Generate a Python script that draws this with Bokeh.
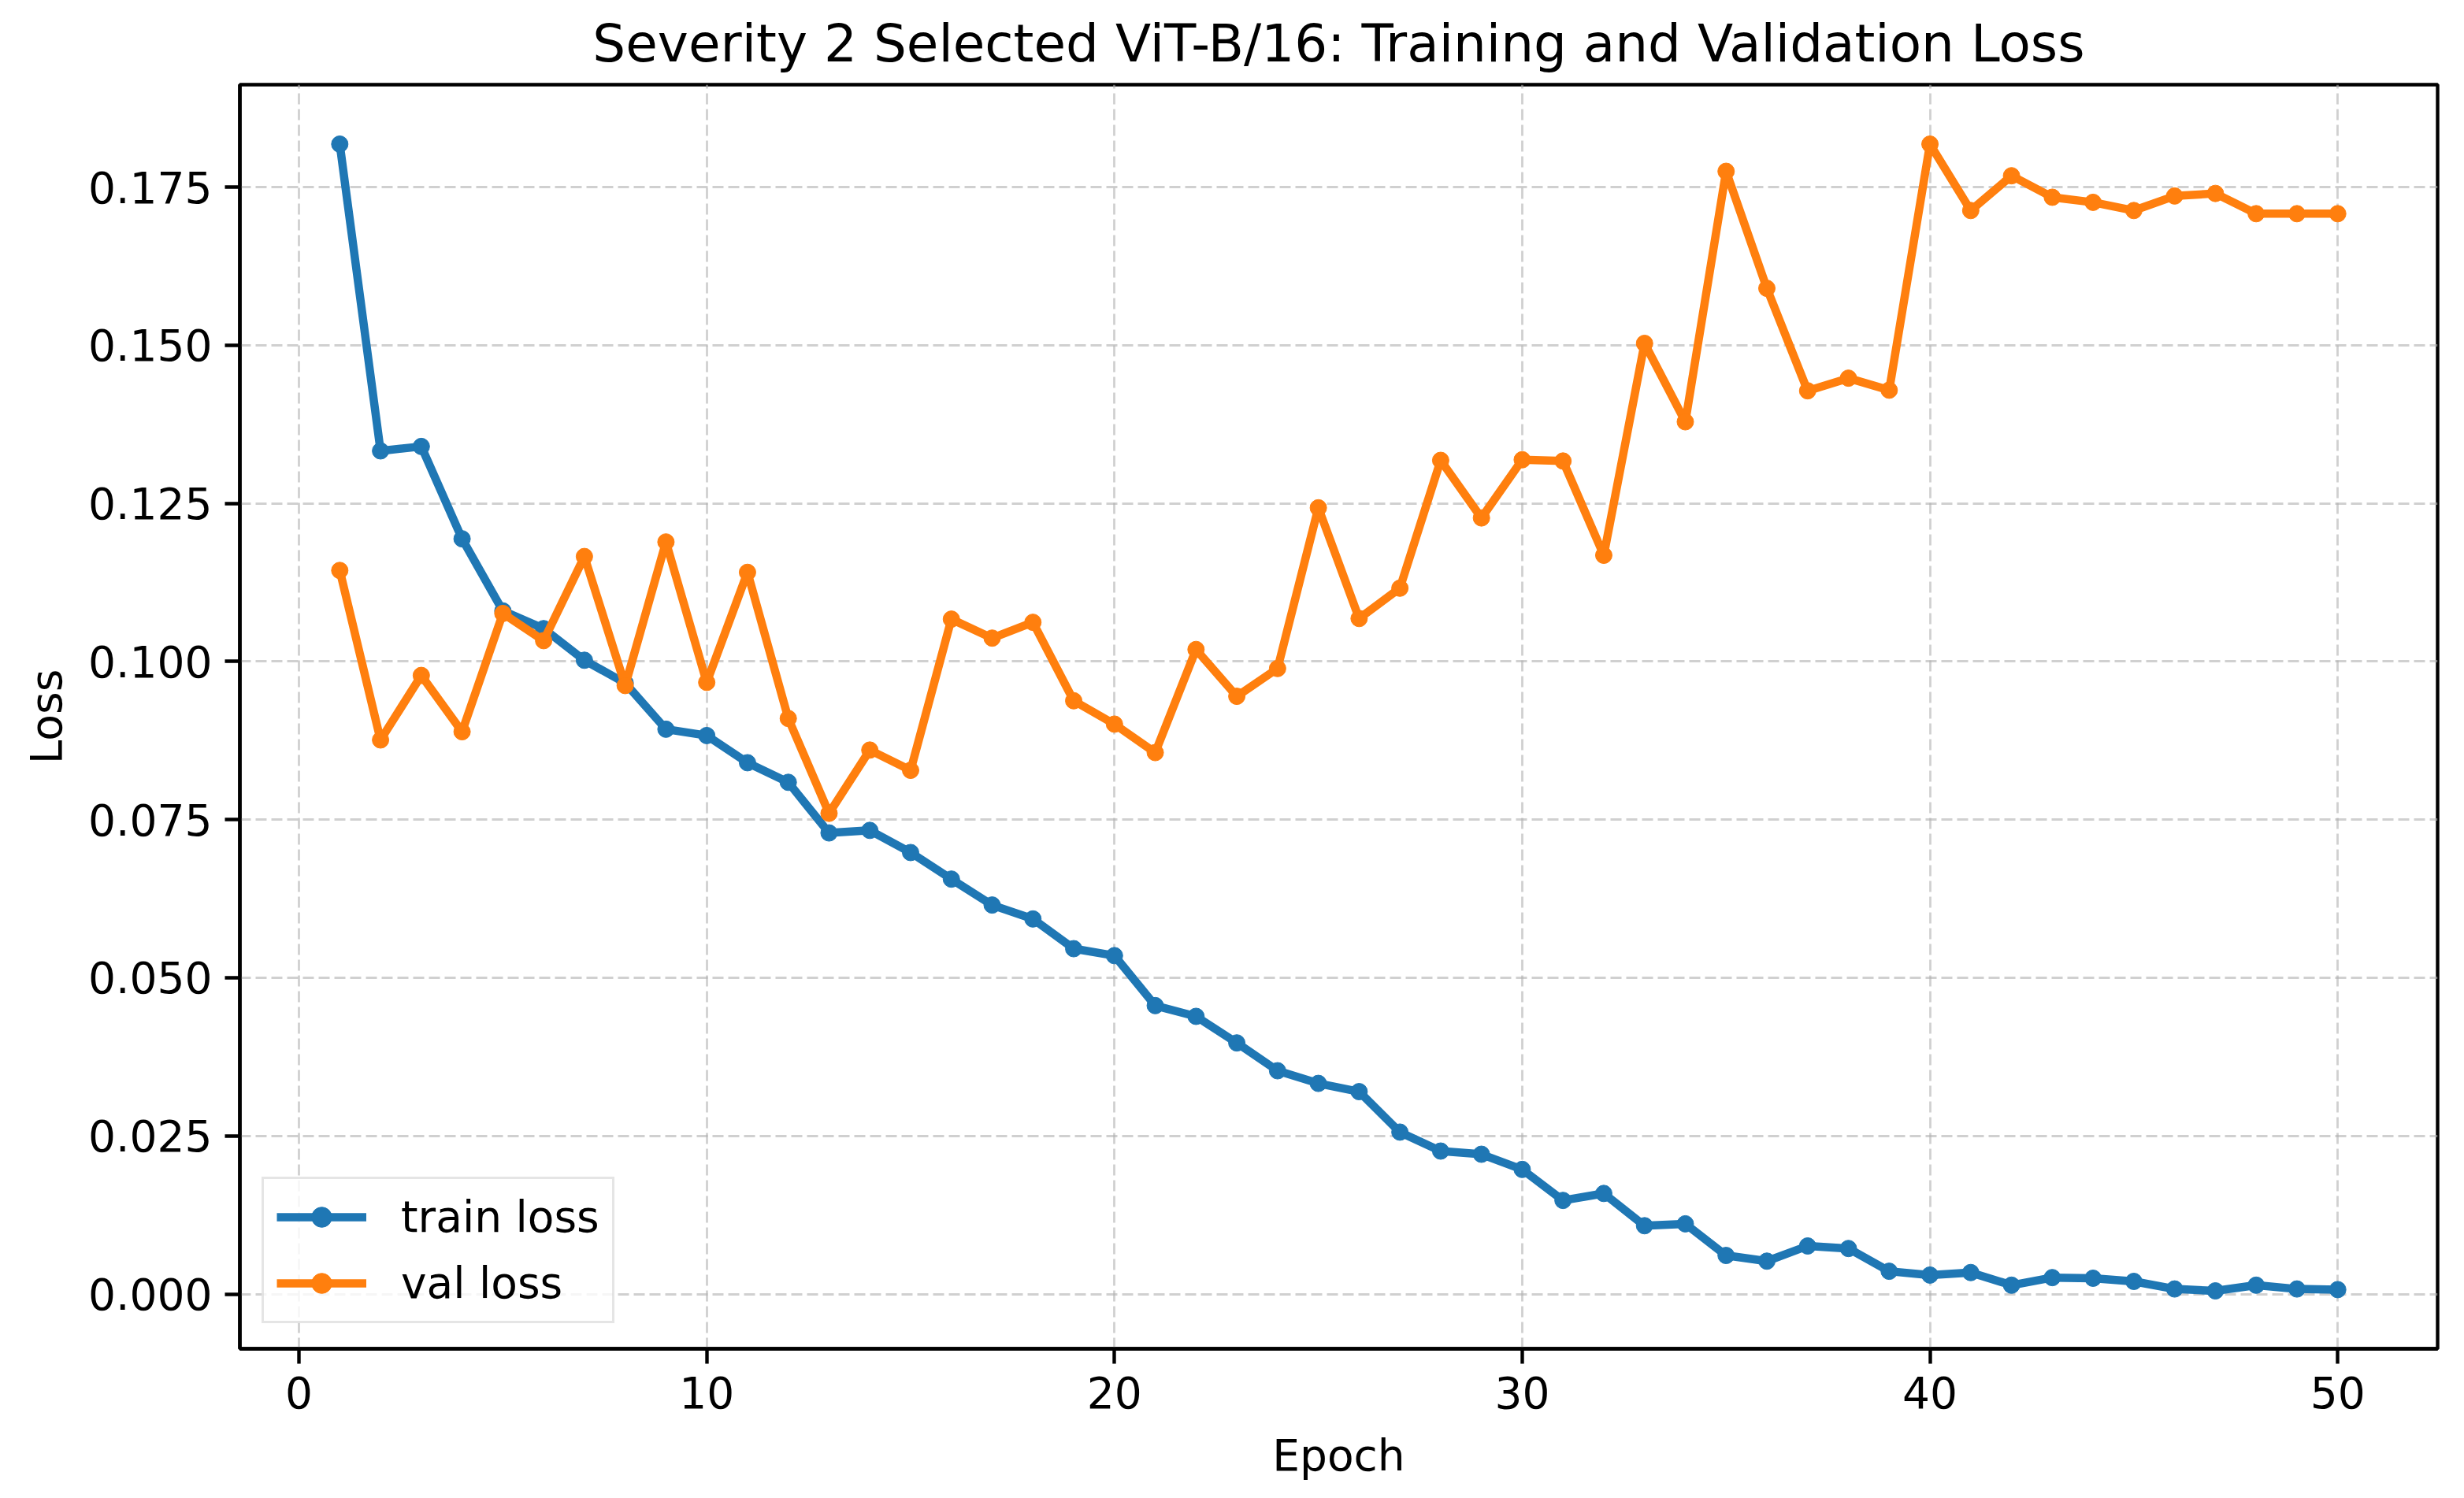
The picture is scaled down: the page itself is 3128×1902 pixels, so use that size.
from bokeh.plotting import figure
from bokeh.models import Range1d, FixedTicker, NumeralTickFormatter, Legend, LegendItem
from bokeh.embed import file_html
from bokeh.resources import INLINE

epochs = list(range(1, 51))
train_loss = [0.1818, 0.1333, 0.1340, 0.1194, 0.1080, 0.1052, 0.1002, 0.0966, 0.0893, 0.0883,
              0.0840, 0.0809, 0.0729, 0.0733, 0.0698, 0.0656, 0.0615, 0.0593, 0.0546, 0.0535,
              0.0456, 0.0439, 0.0397, 0.0353, 0.0333, 0.0320, 0.0256, 0.0226, 0.0221, 0.0197,
              0.0148, 0.0159, 0.0108, 0.0111, 0.0061, 0.0052, 0.0076, 0.0072, 0.0036, 0.0030,
              0.0034, 0.0014, 0.0026, 0.0025, 0.0020, 0.0008, 0.0005, 0.0014, 0.0008, 0.0007]
val_loss = [0.1144, 0.0876, 0.0978, 0.0889, 0.1076, 0.1033, 0.1166, 0.0962, 0.1189, 0.0967,
            0.1141, 0.0910, 0.0760, 0.0860, 0.0828, 0.1067, 0.1037, 0.1062, 0.0938, 0.0901,
            0.0856, 0.1019, 0.0945, 0.0989, 0.1243, 0.1068, 0.1116, 0.1318, 0.1227, 0.1319,
            0.1317, 0.1168, 0.1503, 0.1379, 0.1775, 0.1590, 0.1428, 0.1448, 0.1429, 0.1818,
            0.1713, 0.1768, 0.1734, 0.1726, 0.1713, 0.1736, 0.1740, 0.1708, 0.1708, 0.1708]
x_ticks = [0, 10, 20, 30, 40, 50]
y_ticks = [0.0, 0.025, 0.05, 0.075, 0.1, 0.125, 0.15, 0.175]

FONT = "DejaVu Sans"

p = figure(width=3128, height=1902, output_backend="svg", toolbar_location=None,
           x_range=Range1d(-1.45, 52.45), y_range=Range1d(-0.00865, 0.1912),
           min_border_left=304, min_border_right=34, min_border_top=104, min_border_bottom=190,
           title="Severity 2 Selected ViT-B/16: Training and Validation Loss")
p.background_fill_color = "white"
p.border_fill_color = "white"
p.outline_line_color = "black"
p.outline_line_width = 4.4

p.title.align = "center"
p.title.text_font = FONT
p.title.text_font_size = "66px"
p.title.text_font_style = "normal"
p.title.text_color = "black"
p.title.standoff = 28

for ax in (p.xaxis[0], p.yaxis[0]):
    ax.axis_line_width = 4.4
    ax.axis_line_color = "black"
    ax.major_tick_line_width = 4.4
    ax.major_tick_out = 19
    ax.major_tick_in = 0
    ax.minor_tick_out = 0
    ax.minor_tick_in = 0
    ax.major_label_text_font = FONT
    ax.major_label_text_font_size = "55px"
    ax.major_label_text_color = "black"
    ax.axis_label_text_font = FONT
    ax.axis_label_text_font_size = "55px"
    ax.axis_label_text_font_style = "normal"
    ax.axis_label_text_color = "black"
    ax.major_label_standoff = 16

p.xaxis.ticker = FixedTicker(ticks=x_ticks)
p.yaxis.ticker = FixedTicker(ticks=y_ticks)
p.yaxis.formatter = NumeralTickFormatter(format="0.000")
p.xaxis.axis_label = "Epoch"
p.yaxis.axis_label = "Loss"
p.xaxis.axis_label_standoff = 25
p.yaxis.axis_label_standoff = 18

for g in (p.xgrid[0], p.ygrid[0]):
    g.grid_line_color = "#b0b0b0"
    g.grid_line_alpha = 0.6
    g.grid_line_width = 2.8
    g.grid_line_dash = "14 6"

l1 = p.line(epochs, train_loss, line_color="#1f77b4", line_width=10.5)
s1 = p.scatter(epochs, train_loss, size=21, fill_color="#1f77b4", line_color="#1f77b4")
l2 = p.line(epochs, val_loss, line_color="#ff7f0e", line_width=10.5)
s2 = p.scatter(epochs, val_loss, size=21, fill_color="#ff7f0e", line_color="#ff7f0e")

legend = Legend(items=[LegendItem(label="train loss", renderers=[l1, s1]),
                       LegendItem(label="val loss", renderers=[l2, s2])],
                location=(28, 32), margin=0, padding=16, spacing=20,
                glyph_width=114, glyph_height=64, label_height=64,
                label_standoff=44,
                label_text_font=FONT, label_text_font_size="55px",
                label_text_color="black",
                border_line_color="#cccccc", border_line_width=3.5,
                background_fill_color="white", background_fill_alpha=0.8)
p.add_layout(legend)

open("out.html", "w").write(file_html(p, INLINE))
